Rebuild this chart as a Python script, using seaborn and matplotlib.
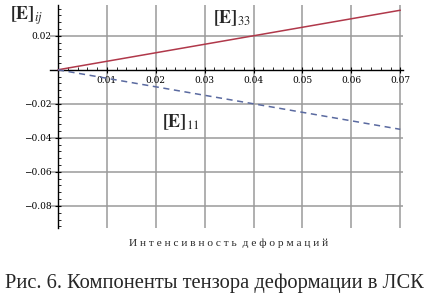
import numpy as np
import pandas as pd
import matplotlib
matplotlib.use("Agg")
import matplotlib.pyplot as plt
import seaborn as sns
from matplotlib.ticker import MultipleLocator, FixedLocator

# strain intensity and tensor components
intensity = [0.0, 0.01, 0.02, 0.03, 0.04, 0.05, 0.06, 0.07]
e33 = [0.0, 0.005, 0.010, 0.015, 0.020, 0.025, 0.030, 0.035]
e11 = [0.0, -0.005, -0.010, -0.015, -0.020, -0.025, -0.030, -0.035]

x_ticks = [0.01, 0.02, 0.03, 0.04, 0.05, 0.06, 0.07]
y_ticks = [0.02, -0.02, -0.04, -0.06, -0.08]

df = pd.DataFrame({"x": intensity, "e33": e33, "e11": e11})

sns.set_style("white")
plt.rcParams["mathtext.fontset"] = "stix"

fig = plt.figure(figsize=(4.28, 3.02), dpi=100)
ax = fig.add_axes([0.116, 0.245, 0.825, 0.738])

# grid
for xv in x_ticks:
    ax.axvline(xv, color="#9a9a9a", lw=1.1, zorder=0)
for yv in y_ticks:
    ax.axhline(yv, color="#9a9a9a", lw=1.1, zorder=0)

sns.lineplot(data=df, x="x", y="e33", ax=ax, color="#b0384a", lw=1.1, zorder=3)
sns.lineplot(data=df, x="x", y="e11", ax=ax, color="#5a6aa0", lw=1.1,
             linestyle=(0, (4, 3)), zorder=3)

ax.set_xlim(-0.0017, 0.0705)
ax.set_ylim(-0.093, 0.038)

for s in ["top", "right"]:
    ax.spines[s].set_visible(False)
ax.spines["left"].set_position(("data", 0))
ax.spines["bottom"].set_position(("data", 0))
ax.spines["left"].set_color("black")
ax.spines["bottom"].set_color("black")
ax.spines["left"].set_linewidth(1.0)
ax.spines["bottom"].set_linewidth(1.0)

ax.xaxis.set_major_locator(FixedLocator(x_ticks))
ax.yaxis.set_major_locator(FixedLocator(y_ticks))
ax.xaxis.set_minor_locator(MultipleLocator(0.002))
ax.yaxis.set_minor_locator(MultipleLocator(0.004))
ax.set_xticklabels([f"{v:.2f}" for v in x_ticks])
ax.set_yticklabels([f"{v:.2f}".replace("-", "\u2212") for v in y_ticks])
ax.tick_params(axis="both", which="major", direction="inout", length=5, width=0.8,
               labelsize=6.5, colors="black", pad=2)
ax.tick_params(axis="both", which="minor", direction="in", length=2.5, width=0.7)
ax.tick_params(axis="both", which="both", bottom=True, left=True)
for lab in ax.get_xticklabels():
    lab.set_fontfamily("DejaVu Serif")
for lab in ax.get_yticklabels():
    lab.set_fontfamily("DejaVu Serif")

ax.set_xlabel("")
ax.set_ylabel("")

ax.text(-0.0098, 0.032, r"$\mathbf{[E]}_{ij}$", fontsize=13, ha="left", va="center")
ax.text(0.0317, 0.0306, r"$\mathbf{[E]}_{33}$", fontsize=13, ha="left", va="center")
ax.text(0.0213, -0.0306, r"$\mathbf{[E]}_{11}$", fontsize=13, ha="left", va="center")

fig.text(0.535, 0.195, "И н т е н с и в н о с т ь  д е ф о р м а ц и й",
         fontsize=8.2, family="Liberation Serif", ha="center", va="center")
fig.text(0.5, 0.063, "Рис. 6. Компоненты тензора деформации в ЛСК",
         fontsize=14.8, family="Liberation Serif", ha="center", va="center")

fig.savefig("out.png", dpi=100)
